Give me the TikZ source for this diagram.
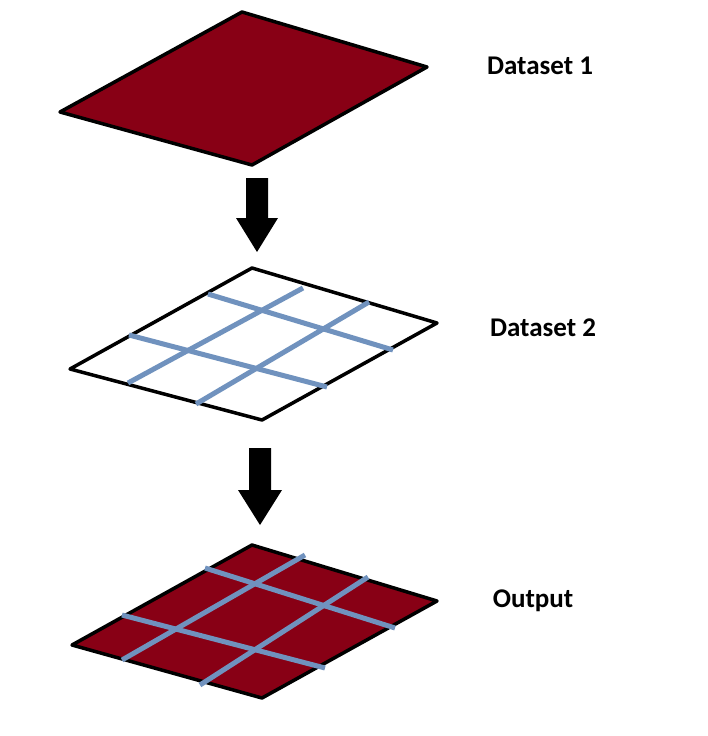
\documentclass[tikz,border=0pt]{standalone}
\usepackage{fontspec}
\setmainfont{Carlito}
\definecolor{dred}{HTML}{880015}
\definecolor{gblue}{HTML}{7092BE}
\begin{document}
\begin{tikzpicture}[x=1pt,y=-1pt,
  plate/.style={draw=black,line width=3.5pt,line join=round},
  grid/.style={gblue,line width=5pt},
  barrow/.style={fill=black},
  lbl/.style={font=\fontsize{27}{30}\selectfont\bfseries}]
\useasboundingbox (0,0) rectangle (708,736);
% Dataset 1
\filldraw[plate,fill=dred] (242,12) coordinate(a1) -- (427,67) -- (252,165) -- (60,112) -- cycle;
\node[lbl] (l1) at (540,66) {Dataset 1};
% arrow 1
\fill[barrow] (246,178) -- (268,178) -- (268,218) -- (278,218) -- (257,252) -- (236,218) -- (246,218) -- cycle;
% Dataset 2
\filldraw[plate,fill=white] (252,268) -- (437,323) -- (262,420) -- (70,369) -- cycle;
\draw[grid] (208,294) -- (393,350);
\draw[grid] (129,335) -- (327,387);
\draw[grid] (128,383) -- (303,288);
\draw[grid] (196,404) -- (369,302);
\node[lbl] (l2) at (543,328) {Dataset 2};
% arrow 2
\fill[barrow] (249,448) -- (271,448) -- (271,490) -- (282,490) -- (260,525) -- (238,490) -- (249,490) -- cycle;
% Output
\filldraw[plate,fill=dred] (252,545) -- (437,601) -- (262,698) -- (72,645) -- cycle;
\draw[grid] (205,568) -- (395,628);
\draw[grid] (122,615) -- (325,668);
\draw[grid] (122,660) -- (305,555);
\draw[grid] (200,685) -- (368,577);
\node[lbl] (l3) at (533,601) {Output};
\end{tikzpicture}
\end{document}
